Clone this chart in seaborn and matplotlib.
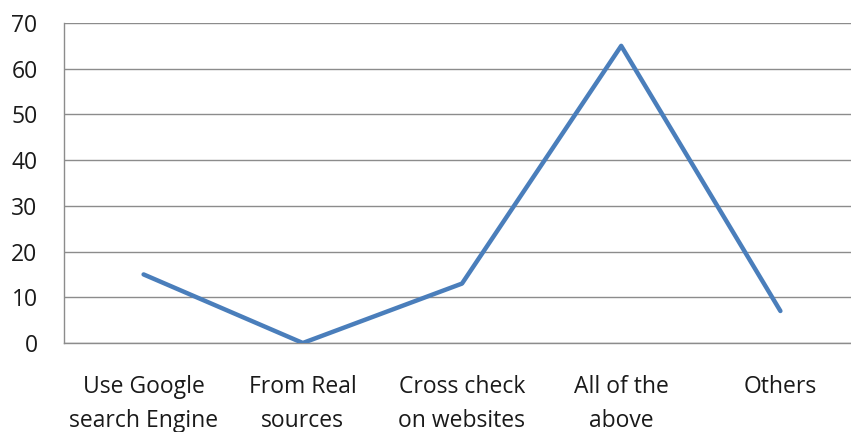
import matplotlib
matplotlib.use("Agg")
import matplotlib.pyplot as plt
import seaborn as sns
import pandas as pd

categories = ["Use Google\nsearch Engine", "From Real\nsources", "Cross check\non websites",
              "All of the\nabove", "Others"]
values = [15, 0, 13, 65, 7]
y_ticks = [0, 10, 20, 30, 40, 50, 60, 70]

sns.set_style("white")
plt.rcParams["font.family"] = ["Open Sans", "DejaVu Sans"]

df = pd.DataFrame({"method": categories, "count": values})

fig = plt.figure(figsize=(8.51, 4.32), dpi=100)
ax = fig.add_axes([64 / 851, 89 / 432, 796 / 851, 320 / 432])

sns.lineplot(data=df, x="method", y="count", ax=ax, color="#4A7EBB",
             linewidth=3.2, sort=False, solid_capstyle="round", zorder=3)

ax.set_xlim(-0.5, len(categories) - 0.5)
ax.set_ylim(0, 70)
ax.set_yticks(y_ticks)
ax.yaxis.grid(True, color="#8C8C8C", linewidth=1.0)
ax.set_axisbelow(True)
ax.set_xlabel("")
ax.set_ylabel("")

for side in ["top", "right"]:
    ax.spines[side].set_visible(False)
ax.spines["left"].set_color("#8C8C8C")
ax.spines["bottom"].set_color("#8C8C8C")
ax.spines["left"].set_linewidth(1.0)
ax.spines["bottom"].set_linewidth(1.0)

ax.tick_params(axis="y", length=0, pad=19, labelsize=16.5, colors="#1A1A1A")
ax.tick_params(axis="x", length=0, pad=23, labelsize=16.5, colors="#1A1A1A")
for lbl in ax.get_xticklabels():
    lbl.set_linespacing(1.55)

fig.savefig("out.png", dpi=100)
